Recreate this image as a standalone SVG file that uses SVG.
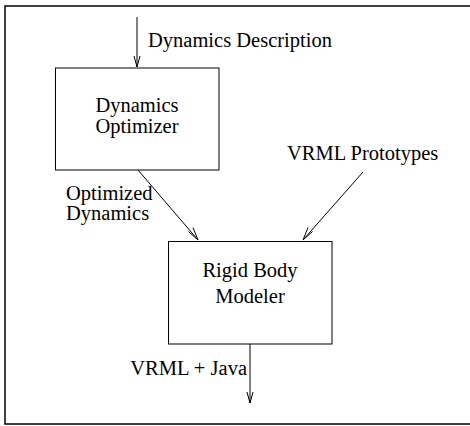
<svg xmlns="http://www.w3.org/2000/svg" width="470" height="426" viewBox="0 0 470 426">
<style>
text{font-family:"Liberation Serif","Times New Roman",serif;font-size:20.5px;fill:#000}
.box{fill:#fff;stroke:#000;stroke-width:1}
.c{fill:none;stroke:#000;stroke-width:1}
.ah{fill:none;stroke:#000;stroke-width:1}
</style>
<rect x="5" y="6" width="470" height="418" fill="#fff" stroke="#000" stroke-width="1.5"/>
<g id="connectors">
<line class="c" x1="137" y1="17" x2="137" y2="67"/>
<polyline class="ah" points="134,56 137,67 140,56"/>
<line class="c" x1="138" y1="170" x2="198" y2="240"/>
<polyline class="ah" points="188.5,231.5 198,240 193,227.6"/>
<line class="c" x1="363" y1="172" x2="303" y2="240"/>
<polyline class="ah" points="308,227.6 303,240 312.5,231.5"/>
<line class="c" x1="250" y1="344" x2="250" y2="403"/>
<polyline class="ah" points="247,392 250,403 253,392"/>
<text x="148" y="47">Dynamics Description</text>
<text x="287" y="160">VRML Prototypes</text>
<text x="66" y="200">Optimized</text>
<text x="66" y="220">Dynamics</text>
<text x="247" y="375" text-anchor="end">VRML + Java</text>
</g>
<g id="dynamics-optimizer">
<rect class="box" x="55.5" y="68" width="163.5" height="102"/>
<text x="137" y="112" text-anchor="middle">Dynamics</text>
<text x="137" y="133" text-anchor="middle">Optimizer</text>
</g>
<g id="rigid-body-modeler">
<rect class="box" x="168.5" y="241.5" width="163.5" height="102.5"/>
<text x="250" y="277" text-anchor="middle">Rigid Body</text>
<text x="250" y="303" text-anchor="middle">Modeler</text>
</g>
</svg>
